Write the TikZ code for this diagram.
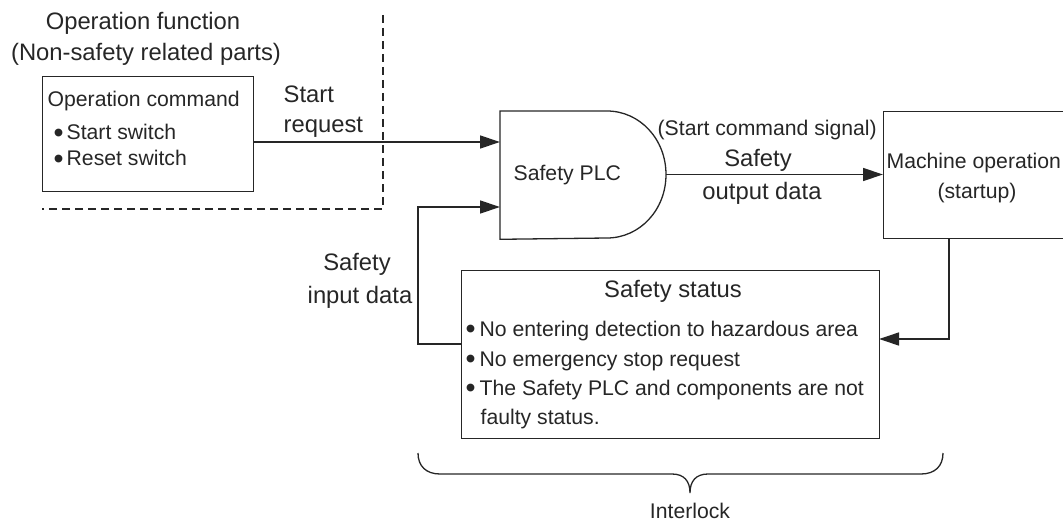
\documentclass[tikz,border=0pt]{standalone}
\usepackage{fontspec}
\setmainfont{Liberation Sans}
\usetikzlibrary{arrows.meta,calc}
\definecolor{ink}{HTML}{262626}
\newcommand{\bigbul}{\raisebox{-2.2pt}{\scalebox{1.35}{•}}}
\begin{document}
\begin{tikzpicture}[x=1pt,y=-1pt, line width=1.3pt, draw=ink, text=ink,
  box/.style={draw=ink, inner sep=0pt, anchor=north west},
  big/.style={font=\fontsize{23.8}{28}\selectfont, inner sep=0pt},
  small/.style={font=\fontsize{21.2}{26}\selectfont, inner sep=0pt},
  arr/.style={-{Triangle[length=20pt,width=13pt]}},
  dashline/.style={dash pattern=on 8pt off 5pt, line width=1.1pt}]
\useasboundingbox (0,0) rectangle (1063,524);
\clip (0,0) rectangle (1063,524);

% dashed boundary of non-safety area
\coordinate (dtop) at (383,15);
\coordinate (dcorner) at (383,209);
\coordinate (dleft) at (42,209);
\draw[dashline] (dtop) -- (dcorner) -- (dleft);

% boxes
\node[box, minimum width=211pt, minimum height=115pt] (opcmd) at (42,76) {};
\node[inner sep=0pt, anchor=north west, minimum width=166pt, minimum height=127pt] (plc) at (500,111) {};
\node[box, minimum width=185pt, minimum height=127pt] (mach) at (883,111) {};
\node[box, minimum width=418pt, minimum height=168pt] (status) at (461,270) {};

% Safety PLC (D shape)
\coordinate (plctr) at (607,111);
\coordinate (plcbr) at (607,238);
\coordinate (plctip) at (666,174.5);
\draw (plctr) -- (plc.north west) -- (plc.south west) -- (plcbr)
  .. controls (639.6,238) and (666,210) .. (plctip)
  .. controls (666,139) and (639.6,111) .. (plctr);

% texts
\node[big, anchor=base] (t1) at (143,30) {Operation function};
\node[big, anchor=base] (t2) at (146,61) {(Non-safety related parts)};
\node[small, anchor=base west] (t3) at (47,107) {Operation command};
\node[small, anchor=base west] (t4) at (53,140) {\bigbul\hspace{3pt}Start switch};
\node[small, anchor=base west] (t5) at (53,166) {\bigbul\hspace{3pt}Reset switch};
\node[big, anchor=base west] (t6) at (283,103) {Start};
\node[big, anchor=base west] (t7) at (283,133) {request};
\node[small, anchor=base west] (t8) at (513,181) {Safety PLC};
\node[small, anchor=base west] (t9) at (657,136) {(Start command signal)};
\node[big, anchor=base] (t10) at (758,167) {Safety};
\node[big, anchor=base] (t11) at (762,200) {output data};
\node[small, anchor=base west] (t12) at (886,168) {Machine operation};
\node[small, anchor=base] (t13) at (977,198) {(startup)};
\node[big, anchor=base] (t14) at (357,270) {Safety};
\node[big, anchor=base] (t15) at (360,303) {input data};
\node[big, anchor=base] (t16) at (673,297) {Safety status};
\node[small, anchor=base west] (t17) at (465,336) {\bigbul\hspace{4pt}No entering detection to hazardous area};
\node[small, anchor=base west] (t18) at (465,366) {\bigbul\hspace{4pt}No emergency stop request};
\node[small, anchor=base west] (t19) at (465,395) {\bigbul\hspace{4pt}The Safety PLC and components are not};
\node[small, anchor=base west] (t20) at (480,424) {faulty status.};
\node[small, anchor=base] (t21) at (690,518) {Interlock};

% connectors
\coordinate (plcin1) at (500,142);
\coordinate (plcin2) at (500,207);
\coordinate (statout) at (461,344);
\coordinate (fb) at (418,344);
\coordinate (mbot) at (949,238);
\coordinate (statin) at (879,339);
\draw[arr] (opcmd.east |- plcin1) -- (plcin1);
\draw[arr] (plctip) -- (plctip -| mach.west);
\draw[arr] (mbot) |- (statin);
\draw[arr] (statout) -- (fb) |- (plcin2);

% brace
\coordinate (bl) at (418,453);
\coordinate (br) at (943,453);
\coordinate (btip) at (690,493);
\draw (bl) .. controls (418,466) and (426,474) .. (440,474) -- (672,474)
  .. controls (684,474) and (690,481) .. (btip)
  .. controls (690,481) and (696,474) .. (708,474) -- (921,474)
  .. controls (935,474) and (943,466) .. (br);
\end{tikzpicture}
\end{document}
